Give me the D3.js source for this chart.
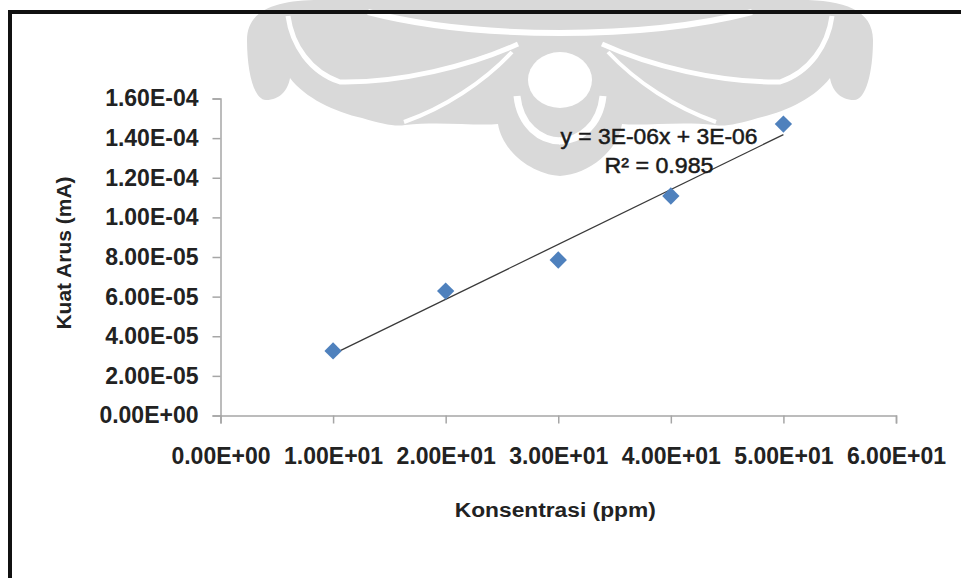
<!DOCTYPE html>
<html>
<head>
<meta charset="utf-8">
<script src="https://cdn.jsdelivr.net/npm/d3@7"></script>
<style>
  body { margin: 0; background: #fff; }
  svg { display: block; }
</style>
</head>
<body>
<div id="chart"></div>
<script>
// Data
const konsentrasi = [10, 20, 30, 40, 50];
const kuatArus = [3.26e-5, 6.28e-5, 7.85e-5, 1.108e-4, 1.471e-4];
const xTicks = [0, 10, 20, 30, 40, 50, 60];
const yTicks = [0, 2e-5, 4e-5, 6e-5, 8e-5, 1e-4, 1.2e-4, 1.4e-4, 1.6e-4];
const trendText = ["y = 3E-06x + 3E-06", "R² = 0.985"];
const xTitle = "Konsentrasi (ppm)";
const yTitle = "Kuat Arus (mA)";

const W = 961, H = 578;
const margin = {top: 98.5, right: 65, bottom: 162.5, left: 220.5};
const width = W - margin.left - margin.right;
const height = H - margin.top - margin.bottom;
const FONT = "'Liberation Sans', Arial, sans-serif";

const svg = d3.select("#chart").append("svg")
    .attr("width", W)
    .attr("height", H);

// Watermark logo (background decoration): left half drawn, then mirrored
const wm = svg.append("g").attr("class", "watermark");
const halves = wm.selectAll("g.half")
    .data(["translate(0,0)", "translate(1120,0) scale(-1,1)"])
    .join("g")
    .attr("class", "half")
    .attr("transform", d => d);
halves.append("path")
    .attr("d", "M560,0 L320,0 C276,0 247,10 247,40 C247,72 254,100 266,100 C280,100 288,90 290,78 C305,98 335,112 362,118 C382,124 396,127 405,125 C440,121 474,126 498,124 C502,150 530,174 560,176 Z")
    .attr("fill", "#d9d9d9");
halves.append("path")
    .attr("d", "M288,16 C292,45 310,72 340,82 C400,83 470,66 518,44")
    .attr("fill", "none").attr("stroke", "#fff").attr("stroke-width", 5);
halves.append("path")
    .attr("d", "M368,12 C430,28 500,33 561,33")
    .attr("fill", "none").attr("stroke", "#fff").attr("stroke-width", 6);
halves.append("path")
    .attr("d", "M404,122 C444,108 484,82 512,52")
    .attr("fill", "none").attr("stroke", "#fff").attr("stroke-width", 4);
halves.append("path")
    .attr("d", "M517,96 C520,125 540,141 561,141")
    .attr("fill", "none").attr("stroke", "#fff").attr("stroke-width", 7);
wm.append("ellipse")
    .attr("cx", 560).attr("cy", 80).attr("rx", 32).attr("ry", 28)
    .attr("fill", "#fff");

// Page frame lines
svg.append("rect").attr("x", 8).attr("y", 10).attr("width", W - 8).attr("height", 4).attr("fill", "#111");
svg.append("rect").attr("x", 8).attr("y", 10).attr("width", 4).attr("height", H - 10).attr("fill", "#111");

const g = svg.append("g")
    .attr("transform", `translate(${margin.left},${margin.top})`);

// Scales
const x = d3.scaleLinear().domain([0, 60]).range([0, width]);
const y = d3.scaleLinear().domain([0, 1.6e-4]).range([height, 0]);

// Excel-like 0.00E+00 format
function sci(v) {
    const parts = v.toExponential(2).split("e");
    const e = +parts[1];
    return parts[0] + "E" + (e < 0 ? "-" : "+") + String(Math.abs(e)).padStart(2, "0");
}

// Axes
const yAxis = g.append("g")
    .call(d3.axisLeft(y).tickValues(yTicks).tickFormat(sci).tickSize(8).tickPadding(14));
const xAxis = g.append("g")
    .attr("transform", `translate(0,${height})`)
    .call(d3.axisBottom(x).tickValues(xTicks).tickFormat(sci).tickSize(8).tickPadding(24));

[xAxis, yAxis].forEach(a => {
    a.selectAll("path, line").attr("stroke", "#a6a6a6").attr("stroke-width", 1.5);
    a.selectAll("text")
        .attr("font-family", FONT)
        .attr("font-size", 23)
        .attr("font-weight", "bold")
        .attr("fill", "#222");
});

// Linear trend line (least squares)
const mx = d3.mean(konsentrasi), my = d3.mean(kuatArus);
const slope = d3.sum(konsentrasi, (k, i) => (k - mx) * (kuatArus[i] - my)) /
              d3.sum(konsentrasi, k => (k - mx) * (k - mx));
const intercept = my - slope * mx;
const xMin = d3.min(konsentrasi), xMax = d3.max(konsentrasi);

g.append("path")
    .datum([xMin, xMax])
    .attr("fill", "none")
    .attr("stroke", "#3a3a3a")
    .attr("stroke-width", 1.3)
    .attr("d", d3.line().x(d => x(d)).y(d => y(slope * d + intercept)));

// Diamond markers
g.selectAll(".pt")
    .data(konsentrasi)
    .join("path")
    .attr("class", "pt")
    .attr("d", d3.symbol(d3.symbolSquare, 150))
    .attr("transform", (d, i) => `translate(${x(d)},${y(kuatArus[i])}) rotate(45)`)
    .attr("fill", "#4f81bd");

// Trend equation label
svg.selectAll(".eq")
    .data(trendText)
    .join("text")
    .attr("class", "eq")
    .attr("x", 659)
    .attr("y", (d, i) => 144 + i * 29)
    .attr("text-anchor", "middle")
    .attr("font-family", FONT)
    .attr("font-size", 22)
    .attr("fill", "#1a1a1a")
    .attr("textLength", (d, i) => i === 0 ? 197 : 109)
    .attr("lengthAdjust", "spacingAndGlyphs")
    .style("paint-order", "stroke")
    .attr("stroke", "#1a1a1a")
    .attr("stroke-width", 0.5)
    .text(d => d);

// Axis titles
svg.append("text")
    .attr("x", margin.left + x(30) - 3)
    .attr("y", 517)
    .attr("text-anchor", "middle")
    .attr("font-family", FONT)
    .attr("font-size", 20)
    .attr("font-weight", "bold")
    .attr("fill", "#222")
    .attr("textLength", 201)
    .attr("lengthAdjust", "spacingAndGlyphs")
    .text(xTitle);

svg.append("text")
    .attr("transform", `translate(71,${margin.top + height / 2 - 4}) rotate(-90)`)
    .attr("text-anchor", "middle")
    .attr("font-family", FONT)
    .attr("font-size", 21)
    .attr("font-weight", "bold")
    .attr("fill", "#222")
    .text(yTitle);
</script>
</body>
</html>
